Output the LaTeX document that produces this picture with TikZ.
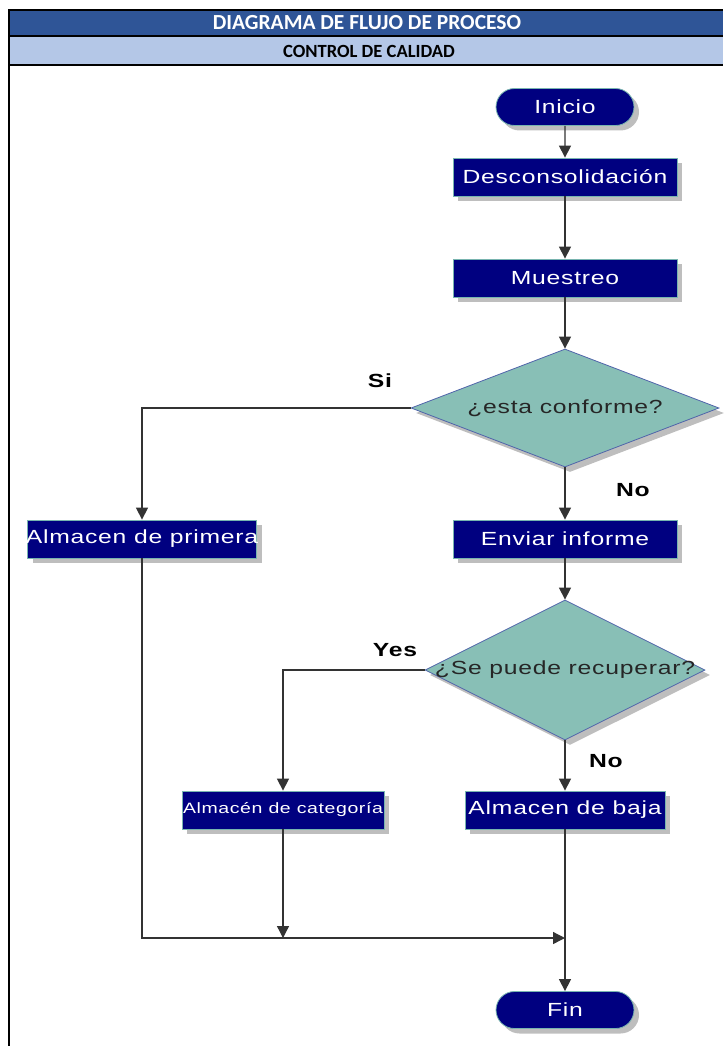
\documentclass[tikz,border=0pt]{standalone}
\usepackage{fontspec}
\setmainfont{Liberation Sans}
\newfontfamily\boxfont[FakeStretch=1.3,LetterSpace=4]{Liberation Sans}
\newfontfamily\headfont{Carlito}
\usetikzlibrary{shapes.geometric,shapes.misc,shadows,arrows.meta}
\definecolor{headdark}{RGB}{47,85,151}
\definecolor{headlight}{RGB}{180,199,231}
\definecolor{boxnavy}{RGB}{0,0,128}
\definecolor{boxedge}{RGB}{120,180,175}
\definecolor{decfill}{RGB}{136,191,182}
\definecolor{decedge}{RGB}{80,100,170}
\definecolor{shade}{RGB}{190,190,190}
\newcommand*{\ColX}{565}
\tikzset{
  shade/.style={drop shadow={shadow xshift=5pt,shadow yshift=-5pt,fill=shade,opacity=1}},
  procbox/.style={rectangle,fill=boxnavy,draw=boxedge,line width=0.8pt,
    minimum height=38pt,inner sep=0pt,text=white,shade,
    font=\boxfont\fontsize{19}{22}\selectfont},
  termbox/.style={procbox,rounded rectangle,minimum width=138pt,minimum height=37pt},
  decbox/.style={diamond,fill=decfill,draw=decedge,line width=0.8pt,inner sep=0pt,
    text=black!85,shade,font=\boxfont\fontsize{19}{22}\selectfont},
  tag/.style={font=\boxfont\bfseries\fontsize{19}{22}\selectfont},
  flow/.style={draw=black!80,line width=1.3pt,-{Triangle[width=12pt,length=12pt]}}
}
\begin{document}
\begin{tikzpicture}[x=1pt,y=-1pt]
  \useasboundingbox (0,0) rectangle (723,1046);
  % header
  \fill[headdark] (9,10) rectangle (723,36);
  \fill[headlight] (9,36) rectangle (723,65);
  \draw[line width=2pt] (9,1046) -- (9,10) -- (723,10);
  \draw[line width=2pt] (9,36) -- (723,36) (9,65) -- (723,65);
  \node[font=\headfont\bfseries\fontsize{21.5}{24}\selectfont,text=white] (title) at (367,23) {DIAGRAMA DE FLUJO DE PROCESO};
  \node[font=\headfont\bfseries\fontsize{18.6}{22}\selectfont] (subtitle) at (369,51) {CONTROL DE CALIDAD};
  % nodes
  \node[termbox] (inicio) at (\ColX,107) {Inicio};
  \foreach \name/\x/\y/\w/\txt in {descon/\ColX/177/224/Desconsolidación,
      muestreo/\ColX/278/224/Muestreo, enviar/\ColX/539/224/Enviar informe,
      primera/142/539/229/Almacen de primera, baja/\ColX/810/200/Almacen de baja} {
    \node[procbox,minimum width=\w pt] (\name) at (\x,\y) {\makebox[0pt]{\txt}};
  }
  \node[procbox,minimum width=202pt,font=\boxfont\fontsize{15}{18}\selectfont] (categoria) at (283,810) {\makebox[0pt]{Almacén de categoría}};
  \node[decbox,minimum width=308pt,minimum height=118pt] (conforme) at (\ColX,408) {\makebox[0pt]{¿esta conforme?}};
  \node[decbox,minimum width=280pt,minimum height=140pt] (recupera) at (\ColX,670) {\makebox[0pt]{¿Se puede recuperar?}};
  \node[termbox] (fin) at (\ColX,1010) {Fin};
  \coordinate (union) at (\ColX,938);
  % labels
  \node[tag] (si) at (380,381) {Si};
  \node[tag] (no1) at (633,490) {No};
  \node[tag] (yes) at (395,650) {Yes};
  \node[tag] (no2) at (606,761) {No};
  % connectors
  \draw[flow] (inicio) -- (descon);
  \draw[flow] (descon) -- (muestreo);
  \draw[flow] (muestreo) -- (conforme);
  \draw[flow] (conforme) -- (enviar);
  \draw[flow] (enviar) -- (recupera);
  \draw[flow] (recupera) -- (baja);
  \draw[flow] (baja) -- (fin);
  \draw[flow] (conforme.west) -| (primera.north);
  \draw[flow] (recupera.west) -| (categoria.north);
  \draw[flow] (primera.south) |- (union);
  \draw[flow] (categoria.south) -- (categoria.south |- union);
\end{tikzpicture}
\end{document}
